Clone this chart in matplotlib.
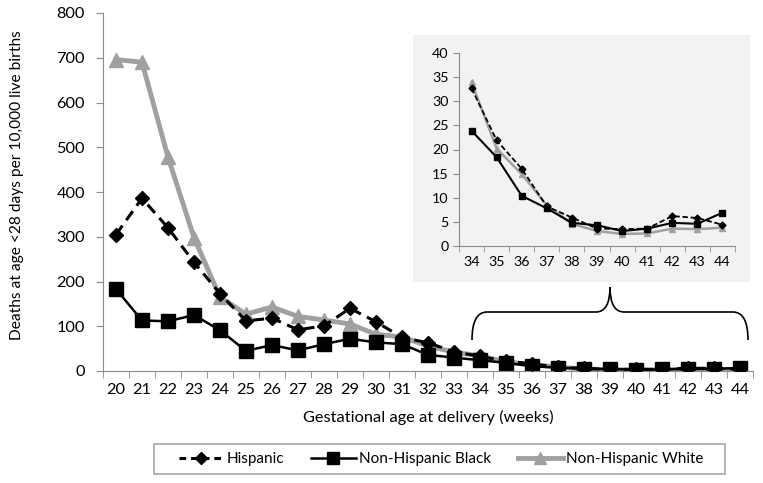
import matplotlib
matplotlib.use("Agg")
import matplotlib.pyplot as plt
from matplotlib.path import Path
from matplotlib.patches import PathPatch, Rectangle
from matplotlib.lines import Line2D
import matplotlib.transforms as mtransforms

weeks = list(range(20, 45))
hispanic = [305, 386, 320, 243, 173, 112, 118, 92, 101, 140, 110, 75, 63, 43,
            32.7, 21.9, 16.0, 8.2, 5.9, 3.6, 3.5, 3.6, 6.2, 5.8, 4.4]
black = [183, 113, 111, 125, 91, 45, 58, 46, 60, 72, 64, 60, 36, 30,
         23.9, 18.4, 10.4, 7.8, 4.8, 4.3, 3.1, 3.6, 4.8, 4.6, 6.9]
white = [696, 690, 478, 298, 165, 127, 143, 122, 114, 105, 82, 76, 56, 42,
         33.9, 20.2, 14.9, 8.4, 4.6, 3.1, 2.5, 2.6, 3.6, 3.5, 3.8]
series_names = ['Hispanic', 'Non-Hispanic Black', 'Non-Hispanic White']
inset_start = 34

plt.rcParams['font.family'] = ['Lato', 'DejaVu Sans']
W, H = 763, 483
fig = plt.figure(figsize=(W/100, H/100), dpi=100)

gray = '#a0a0a0'
axc = '#8a8a8a'
dash_main = (0, (3.6, 2.2))

def px(l, t, r, b):
    return [l/W, 1-b/H, (r-l)/W, (b-t)/H]

ax = fig.add_axes(px(103, 13, 753, 371))
ax.plot(weeks, white, color=gray, lw=3.5, marker='^', ms=10, zorder=2)
ax.plot(weeks, hispanic, color='black', lw=2.2, ls=dash_main, marker='D', ms=7, zorder=3)
ax.plot(weeks, black, color='black', lw=1.8, marker='s', ms=10, zorder=2.5)
ax.set_xlim(19.5, 44.5)
ax.set_ylim(0, 800)
ax.set_yticks(range(0, 801, 100))
ax.set_xticks(weeks)
ax.set_xticks([w - 0.5 for w in weeks] + [44.5], minor=True)
ax.tick_params(axis='x', which='major', length=0, labelsize=11.8, pad=9)
ax.tick_params(axis='x', which='minor', length=5, color=axc, direction='out')
ax.tick_params(axis='y', length=5, color=axc, labelsize=11.8, pad=8)
for s in ['top', 'right']:
    ax.spines[s].set_visible(False)
for s in ['left', 'bottom']:
    ax.spines[s].set_color(axc)
ax.set_xlabel('Gestational age at delivery (weeks)', fontsize=11.8, labelpad=9)
ax.set_ylabel('Deaths at age <28 days per 10,000 live births', fontsize=11.2)
ax.yaxis.set_label_coords(-0.122, 0.52)

# inset background
fig.patches.append(Rectangle((413/W, 1-282/H), (750-413)/W, (282-35)/H,
                             transform=fig.transFigure, facecolor='#f2f2f2',
                             edgecolor='none', zorder=3))
iax = fig.add_axes(px(459, 53, 735, 246), zorder=4)
iax.set_facecolor('none')
i0 = weeks.index(inset_start)
iw = weeks[i0:]
iax.plot(iw, white[i0:], color=gray, lw=1.8, marker='^', ms=4)
iax.plot(iw, hispanic[i0:], color='black', lw=1.3, ls=(0, (3, 1.5)), marker='D', ms=3.5)
iax.plot(iw, black[i0:], color='black', lw=1.5, marker='s', ms=4)
iax.set_xlim(33.5, 44.5)
iax.set_ylim(0, 40)
iax.set_yticks(range(0, 41, 5))
iax.set_xticks(iw)
iax.set_xticks([w - 0.5 for w in iw] + [44.5], minor=True)
iax.tick_params(axis='x', which='major', length=0, labelsize=10.3, pad=7)
iax.tick_params(axis='x', which='minor', length=4, color=axc)
iax.tick_params(axis='y', length=4, color=axc, labelsize=10.3)
for s in ['top', 'right']:
    iax.spines[s].set_visible(False)
for s in ['left', 'bottom']:
    iax.spines[s].set_color(axc)

# brace
tr = mtransforms.Affine2D().scale(1/W, -1/H).translate(0, 1) + fig.transFigure
verts = [(472, 340), (472, 312), (487, 312), (596, 312), (610, 312), (610, 287),
         (610, 312), (624, 312), (733, 312), (748, 312), (748, 340)]
codes = [Path.MOVETO, Path.CURVE3, Path.CURVE3, Path.LINETO, Path.CURVE3, Path.CURVE3,
         Path.CURVE3, Path.CURVE3, Path.LINETO, Path.CURVE3, Path.CURVE3]
fig.patches.append(PathPatch(Path(verts, codes), transform=tr, fill=False,
                             edgecolor='black', lw=1.2))

# legend
fig.patches.append(Rectangle((154/W, 1-474/H), (725-154)/W, 30/H,
                             transform=fig.transFigure, facecolor='white',
                             edgecolor='#a8a8a8', lw=1.2))
handles = [Line2D([], [], color='black', lw=2.2, ls=(0, (2.2, 1.6)), marker='D', ms=6),
           Line2D([], [], color='black', lw=1.8, marker='s', ms=8),
           Line2D([], [], color=gray, lw=3.5, marker='^', ms=8)]
fig.legend(handles, series_names, ncol=3, loc='center',
           bbox_to_anchor=(441/W, 1-459/H), frameon=False,
           fontsize=11, handlelength=2.9, handletextpad=0.2,
           columnspacing=1.8, borderpad=0, borderaxespad=0)

fig.savefig('out.png', dpi=100)
